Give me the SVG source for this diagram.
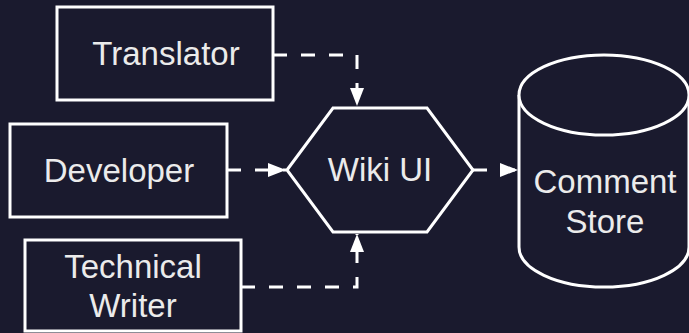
<svg xmlns="http://www.w3.org/2000/svg" width="689" height="333" viewBox="0 0 689 333">
<defs>
<style>
.shape{fill:#1a1a2e;stroke:#ffffff;stroke-width:3}
.lbl{font-family:"Liberation Sans",Arial,sans-serif;font-size:33px;fill:#ebebeb;text-anchor:middle}
.edge{fill:none;stroke:#ffffff;stroke-width:3;stroke-dasharray:14 14}
</style>
<marker id="arrow" markerUnits="userSpaceOnUse" markerWidth="20" markerHeight="16" refX="18" refY="7" orient="auto">
<path d="M0,0 L18,7 L0,14 Z" fill="#ffffff"/>
</marker>
</defs>
<rect width="689" height="333" fill="#1a1a2e"/>
<g id="connectors">
<path class="edge" d="M273,55 H357 V106" marker-end="url(#arrow)"/>
<path class="edge" d="M227,170 H286" marker-end="url(#arrow)"/>
<path class="edge" d="M241,287 H357 V234" marker-end="url(#arrow)"/>
<path class="edge" d="M473,170 H518" marker-end="url(#arrow)"/>
</g>
<g id="translator">
<rect class="shape" x="57" y="7" width="216" height="93"/>
<text class="lbl" x="166" y="65">Translator</text>
</g>
<g id="developer">
<rect class="shape" x="10" y="124" width="217" height="93"/>
<text class="lbl" x="119" y="182">Developer</text>
</g>
<g id="technical-writer">
<rect class="shape" x="25" y="240" width="216" height="91"/>
<text class="lbl" x="133" y="278">Technical</text>
<text class="lbl" x="133" y="317">Writer</text>
</g>
<g id="wiki-ui">
<polygon class="shape" points="287,170 333,108 427,108 473,170 427,232 333,232"/>
<text class="lbl" x="380" y="181">Wiki UI</text>
</g>
<g id="comment-store">
<path class="shape" d="M519,95 V247 A85,40 0 0 0 689,247 V95 A85,40 0 0 0 519,95 Z"/>
<path class="shape" d="M519,95 A85,40 0 0 0 689,95" fill="none"/>
<text class="lbl" x="605" y="193">Comment</text>
<text class="lbl" x="605" y="233">Store</text>
</g>
</svg>
